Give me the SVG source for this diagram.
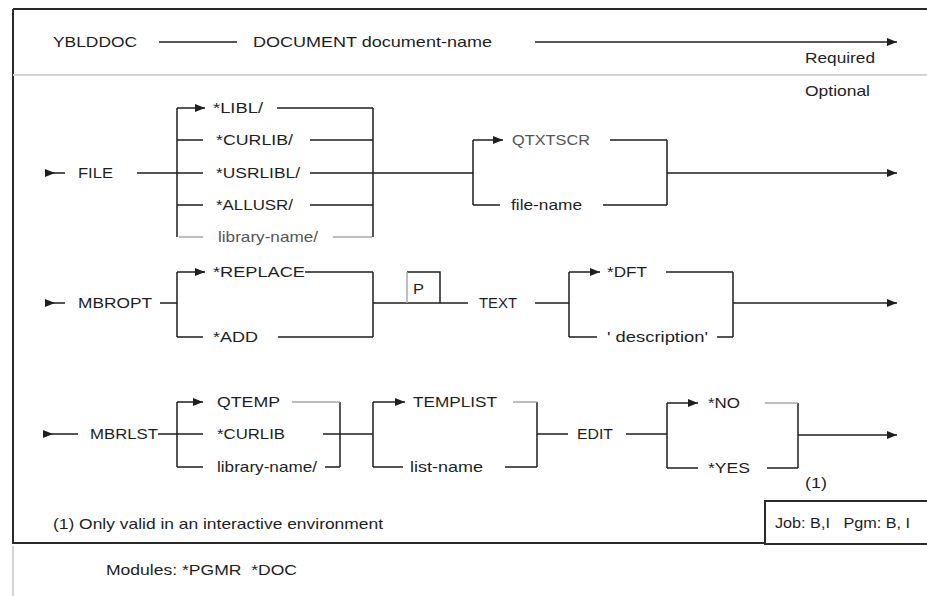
<svg xmlns="http://www.w3.org/2000/svg" width="927" height="596" viewBox="0 0 927 596">
<style>
text{font-family:"Liberation Sans",Arial,sans-serif;font-size:15px;fill:#1e1e1e;white-space:pre}
.c{fill:none;stroke:#1e1e1e;stroke-width:1.5}
.g{fill:none;stroke:#a8a8a8;stroke-width:1.5}
.f{fill:none;stroke:#2a2a2a;stroke-width:2}
.s{fill:none;stroke:#d4d4d4;stroke-width:2}
.a{marker-end:url(#ah)}
</style>
<defs>
<marker id="ah" markerUnits="userSpaceOnUse" markerWidth="11" markerHeight="9" refX="10" refY="4.5" orient="auto">
<path d="M0,0.5 L10,4.5 L0,8.5 z" fill="#1e1e1e"/>
</marker>
</defs>
<rect width="927" height="596" fill="#fff"/>
<g id="frame">
<path class="f" d="M13,9 H927 M13,9 V543 H765"/>
<path class="s" d="M13,75 H927"/>
<path class="f" d="M927,501 H765 V544 H927"/>
<path class="s" d="M13,546 V596"/>
</g>
<g id="connectors">
<path class="c" d="M159,42 H237"/>
<path class="c a" d="M535,42 H897"/>
<path class="c a" d="M45,173 H55"/>
<path class="c" d="M55,173 H65 M137,173 H203 M177,108 V237 M277,108 H373 M177,140 H203 M310,140 H373 M310,173 H473 M177,205 H203 M310,205 H373 M373,108 V237"/>
<path class="c a" d="M177,108 H205"/>
<path class="g" d="M179,237 H203 M333,237 H372"/>
<path class="c" d="M473,140 V205 M610,140 H667 M473,205 H500 M603,205 H667 M667,140 V205"/>
<path class="c a" d="M473,140 H503"/>
<path class="c a" d="M667,173 H897"/>
<path class="c a" d="M45,303 H55"/>
<path class="c" d="M55,303 H65 M160,303 H177 M177,272 V337 M305,272 H373 M177,337 H203 M278,337 H373 M373,272 V337 M373,303 H468 M407,272 H440 V303 M535,303 H569 M569,272 V337 M666,272 H733 M569,337 H597 M717,337 H733 M733,272 V337"/>
<path class="g" d="M407,272 V303"/>
<path class="c a" d="M177,272 H205"/>
<path class="c a" d="M569,272 H600"/>
<path class="c a" d="M733,303 H897"/>
<path class="c a" d="M45,434 H53"/>
<path class="c" d="M53,434 H78 M158,434 H203 M177,402 V467 M323,434 H373 M177,467 H203 M325,467 H340 M340,402 V467 M373,402 V467 M373,467 H403 M505,467 H537 M537,402 V467 M537,434 H568 M626,434 H667 M667,403 V468 M667,468 H698 M767,468 H798 M798,403 V468"/>
<path class="g" d="M292,402 H340 M513,402 H537 M765,403 H798"/>
<path class="c a" d="M177,402 H203"/>
<path class="c a" d="M373,402 H405"/>
<path class="c a" d="M667,403 H698"/>
<path class="c a" d="M798,435 H897"/>
</g>
<g id="n-yblddoc"><text x="53" y="47" textLength="84" lengthAdjust="spacingAndGlyphs">YBLDDOC</text></g>
<g id="n-document"><text x="253" y="47" textLength="239" lengthAdjust="spacingAndGlyphs">DOCUMENT document-name</text></g>
<g id="n-required"><text x="805" y="63" textLength="70" lengthAdjust="spacingAndGlyphs">Required</text></g>
<g id="n-optional"><text x="805" y="96" textLength="65" lengthAdjust="spacingAndGlyphs">Optional</text></g>
<g id="n-file"><text x="78" y="178" textLength="35" lengthAdjust="spacingAndGlyphs">FILE</text></g>
<g id="n-libl"><text x="213" y="113" textLength="50" lengthAdjust="spacingAndGlyphs">*LIBL/</text></g>
<g id="n-curlib"><text x="216" y="145" textLength="77" lengthAdjust="spacingAndGlyphs">*CURLIB/</text></g>
<g id="n-usrlibl"><text x="216" y="178" textLength="84" lengthAdjust="spacingAndGlyphs">*USRLIBL/</text></g>
<g id="n-allusr"><text x="216" y="210" textLength="77" lengthAdjust="spacingAndGlyphs">*ALLUSR/</text></g>
<g id="n-libname1"><text x="218" y="242" textLength="100" lengthAdjust="spacingAndGlyphs" style="fill:#555">library-name/</text></g>
<g id="n-qtxtscr"><text x="512" y="145" textLength="78" lengthAdjust="spacingAndGlyphs" style="fill:#555">QTXTSCR</text></g>
<g id="n-filename"><text x="511" y="210" textLength="71" lengthAdjust="spacingAndGlyphs">file-name</text></g>
<g id="n-mbropt"><text x="78" y="308" textLength="74" lengthAdjust="spacingAndGlyphs">MBROPT</text></g>
<g id="n-replace"><text x="213" y="277" textLength="92" lengthAdjust="spacingAndGlyphs">*REPLACE</text></g>
<g id="n-add"><text x="213" y="342" textLength="45" lengthAdjust="spacingAndGlyphs">*ADD</text></g>
<g id="n-p"><text x="413" y="294" textLength="11" lengthAdjust="spacingAndGlyphs">P</text></g>
<g id="n-text"><text x="479" y="308" textLength="38" lengthAdjust="spacingAndGlyphs">TEXT</text></g>
<g id="n-dft"><text x="607" y="277" textLength="40" lengthAdjust="spacingAndGlyphs">*DFT</text></g>
<g id="n-desc"><text x="607" y="342" textLength="101" lengthAdjust="spacingAndGlyphs">' description'</text></g>
<g id="n-mbrlst"><text x="90" y="439" textLength="68" lengthAdjust="spacingAndGlyphs">MBRLST</text></g>
<g id="n-qtemp"><text x="217" y="407" textLength="63" lengthAdjust="spacingAndGlyphs">QTEMP</text></g>
<g id="n-curlib2"><text x="217" y="439" textLength="68" lengthAdjust="spacingAndGlyphs">*CURLIB</text></g>
<g id="n-libname2"><text x="217" y="472" textLength="100" lengthAdjust="spacingAndGlyphs">library-name/</text></g>
<g id="n-templist"><text x="413" y="407" textLength="84" lengthAdjust="spacingAndGlyphs">TEMPLIST</text></g>
<g id="n-listname"><text x="410" y="472" textLength="73" lengthAdjust="spacingAndGlyphs">list-name</text></g>
<g id="n-edit"><text x="577" y="439" textLength="36" lengthAdjust="spacingAndGlyphs">EDIT</text></g>
<g id="n-no"><text x="708" y="408" textLength="32" lengthAdjust="spacingAndGlyphs">*NO</text></g>
<g id="n-yes"><text x="708" y="473" textLength="42" lengthAdjust="spacingAndGlyphs">*YES</text></g>
<g id="n-note-ref"><text x="805" y="488" textLength="22" lengthAdjust="spacingAndGlyphs">(1)</text></g>
<g id="n-jobpgm"><text x="775" y="528" textLength="135" lengthAdjust="spacingAndGlyphs" xml:space="preserve">Job: B,I   Pgm: B, I</text></g>
<g id="n-footnote"><text x="53" y="529" textLength="330" lengthAdjust="spacingAndGlyphs">(1) Only valid in an interactive environment</text></g>
<g id="n-modules"><text x="106" y="575" textLength="191" lengthAdjust="spacingAndGlyphs" xml:space="preserve">Modules: *PGMR  *DOC</text></g>
</svg>
